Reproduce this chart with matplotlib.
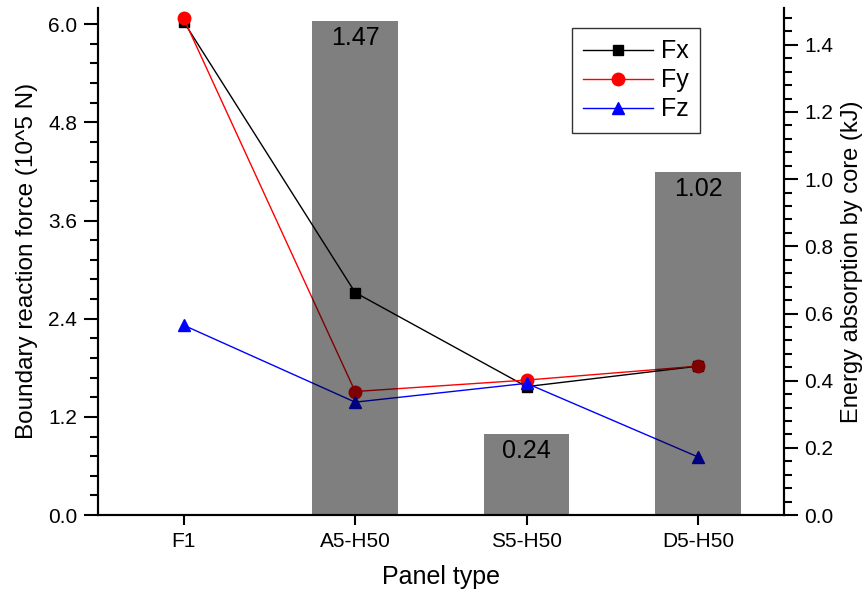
import matplotlib
matplotlib.use('Agg')
import matplotlib.pyplot as plt
import numpy as np

plt.rcParams['font.family'] = ['Liberation Sans', 'DejaVu Sans']

# data
panels = ['F1', 'A5-H50', 'S5-H50', 'D5-H50']
fx = [6.03, 2.72, 1.57, 1.82]
fy = [6.07, 1.51, 1.65, 1.82]
fz = [2.32, 1.38, 1.61, 0.71]
energy = [np.nan, 1.47, 0.24, 1.02]
energy_labels = ['', '1.47', '0.24', '1.02']

fig = plt.figure(figsize=(8.67, 6.01), dpi=100)
ax = fig.add_axes([0.113, 0.143, 0.791, 0.844])
x = np.arange(len(panels))

# force lines (left axis)
l1, = ax.plot(x, fx, color='black', lw=1.0, marker='s', ms=7.5, label='Fx')
l2, = ax.plot(x, fy, color='red', lw=1.0, marker='o', ms=9, label='Fy')
l3, = ax.plot(x, fz, color='blue', lw=1.0, marker='^', ms=9, label='Fz')

ax.set_xlim(-0.5, 3.5)
ax.set_ylim(0, 6.2)
ax.set_yticks(np.arange(0, 6.01, 1.2))
ax.set_yticks(np.arange(0, 6.2, 0.24), minor=True)
ax.yaxis.set_major_formatter(matplotlib.ticker.FormatStrFormatter('%.1f'))
ax.set_xticks(x)
ax.set_xticklabels(panels)
ax.set_xlabel('Panel type', fontsize=18, labelpad=10)
ax.set_ylabel('Boundary reaction force (10^5 N)', fontsize=17.5, labelpad=7)

# energy bars (right axis), drawn on top with transparency
ax2 = ax.twinx()
bars = ax2.bar(x, energy, width=0.5, color='black', alpha=0.5, lw=0)
ax2.set_ylim(0, 1.51)
ax2.set_yticks(np.arange(0, 1.41, 0.2))
ax2.set_yticks(np.arange(0, 1.51, 0.04), minor=True)
ax2.yaxis.set_major_formatter(matplotlib.ticker.FormatStrFormatter('%.1f'))
ax2.set_ylabel('Energy absorption by core (kJ)', fontsize=17, labelpad=5)

for xi, e, lab in zip(x, energy, energy_labels):
    if lab:
        ax2.text(xi, e - 0.015, lab, ha='center', va='top', fontsize=18)

for a in (ax, ax2):
    a.spines['top'].set_visible(False)
    for s in a.spines.values():
        s.set_linewidth(1.5)
    a.tick_params(which='major', direction='out', length=10, width=1.5,
                  labelsize=15, pad=5)
    a.tick_params(which='minor', direction='out', length=5.5, width=1.5)
ax.tick_params(axis='x', which='minor', bottom=False)
ax.tick_params(axis='x', which='major', length=7)

leg = ax2.legend([l1, l2, l3], ['Fx', 'Fy', 'Fz'], loc='upper left',
                 bbox_to_anchor=(0.691, 0.96), borderaxespad=0, fontsize=18,
                 frameon=True, fancybox=False, edgecolor='black',
                 handlelength=2.8, borderpad=0.45, labelspacing=0.2,
                 handletextpad=0.3)
leg.get_frame().set_linewidth(1.0)

fig.savefig('out.png', dpi=100)
